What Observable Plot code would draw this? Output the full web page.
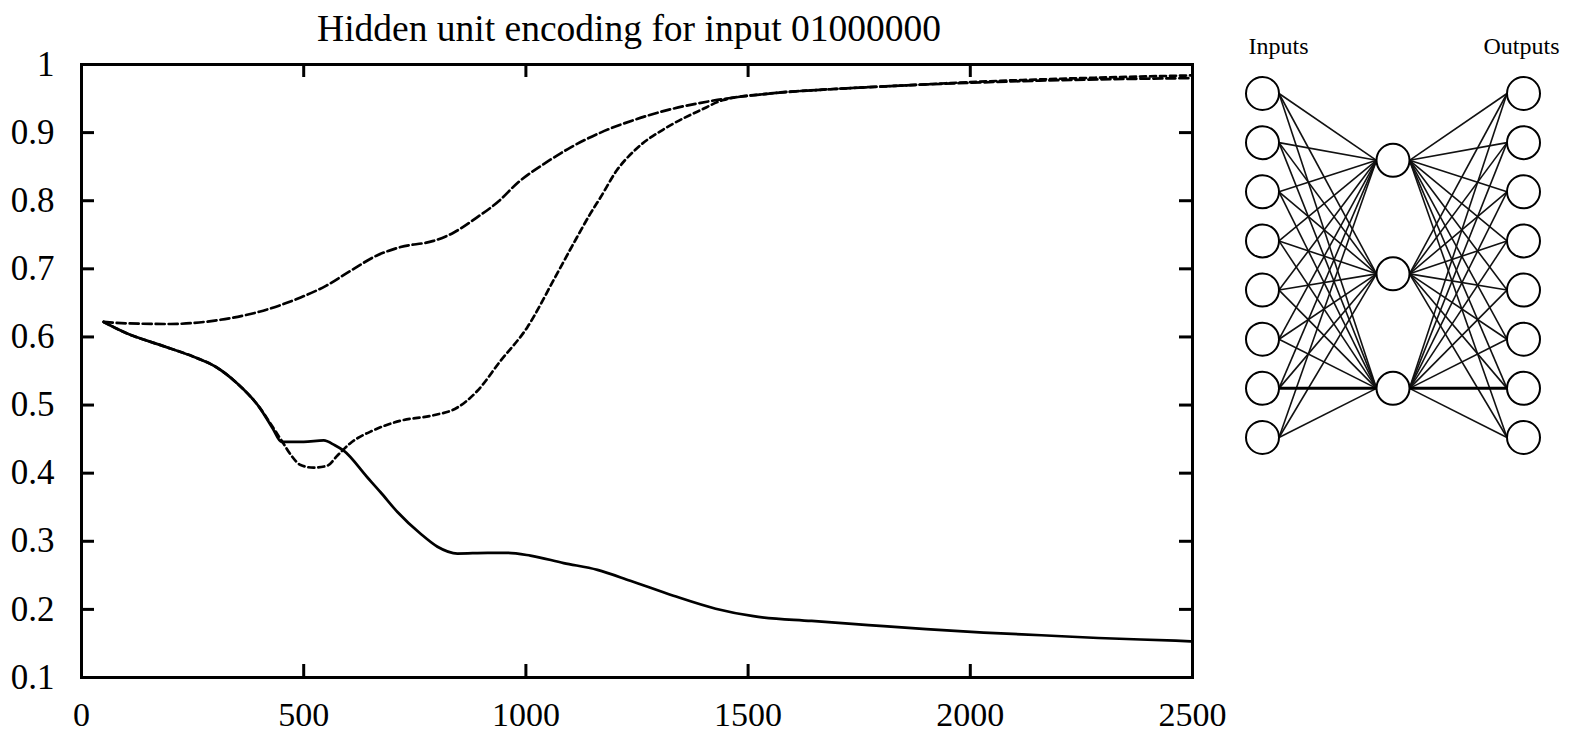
<!DOCTYPE html>
<html>
<head>
<meta charset="utf-8">
<script src="https://cdn.jsdelivr.net/npm/d3@7"></script>
<script src="https://cdn.jsdelivr.net/npm/@observablehq/plot@0.6"></script>
<style>
  html, body { margin: 0; padding: 0; background: #fff; }
  #wrap { position: relative; width: 1572px; height: 734px; overflow: hidden; background: #fff; }
  #main { position: absolute; left: 0; top: 0; }
  #net { position: absolute; left: 1200px; top: 0; }
</style>
</head>
<body>
<div id="wrap"><div id="main"></div><div id="net"></div></div>
<script>
// ---------- chart data ----------
const titleText = "Hidden unit encoding for input 01000000";
const xTicks = [0, 500, 1000, 1500, 2000, 2500];
const yTicks = [0.1, 0.2, 0.3, 0.4, 0.5, 0.6, 0.7, 0.8, 0.9, 1];
const xDomain = [0, 2500];
const yDomain = [0.1, 1];

// hidden unit rising early (long dashes)
const unitA = [[50,0.622],[100,0.620],[200,0.619],[300,0.624],[400,0.637],[493,0.658],[550,0.675],[605,0.697],[666,0.720],[718,0.732],[792,0.741],[837,0.753],[882,0.772],[940,0.800],[981,0.826],[1050,0.858],[1100,0.878],[1168,0.900],[1250,0.920],[1318,0.933],[1431,0.948],[1543,0.957],[1693,0.964],[1843,0.969],[1993,0.973],[2200,0.977],[2500,0.980]];
// hidden unit dipping then rising (short dashes)
const unitB = [[50,0.622],[103,0.605],[178,0.588],[252,0.571],[300,0.557],[350,0.532],[400,0.497],[430,0.468],[452,0.446],[472,0.426],[493,0.412],[522,0.408],[553,0.411],[576,0.426],[605,0.444],[657,0.463],[718,0.477],[792,0.485],[845,0.496],[891,0.521],[943,0.565],[1003,0.614],[1062,0.683],[1107,0.737],[1145,0.781],[1168,0.805],[1205,0.845],[1250,0.877],[1318,0.908],[1393,0.933],[1445,0.948],[1543,0.957],[1693,0.964],[1843,0.969],[1993,0.974],[2200,0.979],[2500,0.984]];
// hidden unit falling (solid)
const unitC = [[50,0.622],[103,0.605],[178,0.588],[252,0.571],[300,0.557],[350,0.532],[400,0.497],[430,0.466],[450,0.446],[500,0.446],[545,0.448],[570,0.441],[590,0.433],[643,0.394],[673,0.372],[711,0.343],[763,0.311],[801,0.292],[846,0.282],[914,0.283],[960,0.283],[1010,0.279],[1085,0.268],[1161,0.258],[1235,0.242],[1332,0.220],[1427,0.201],[1512,0.190],[1643,0.183],[1771,0.177],[1901,0.171],[2030,0.166],[2160,0.162],[2288,0.158],[2462,0.154],[2500,0.153]];

// ---------- network diagram data ----------
const inputPos = [0, 1, 2, 3, 4, 5, 6, 7];
const hiddenPos = [1.36, 3.67, 6];
const outputPos = [0, 1, 2, 3, 4, 5, 6, 7];
const activeInput = 6, activeHidden = 2, activeOutput = 6;
const inputLabel = "Inputs", outputLabel = "Outputs";
const labelPos = -0.96;

// ---------- main chart ----------
const W = 1200, H = 734, mL = 81, mR = 8, mT = 64, mB = 57;
const frameW = W - mL - mR, frameH = H - mT - mB, tickLen = 13;
const toRows = arr => arr.map(([t, v]) => ({t, v}));
const serif = "'Liberation Serif', 'Times New Roman', serif";

const main = Plot.plot({
  width: W, height: H,
  marginLeft: mL, marginRight: mR, marginTop: mT, marginBottom: mB,
  style: {fontFamily: serif, fontSize: "34px", background: "#fff", color: "#000", overflow: "visible"},
  x: {domain: xDomain, axis: null},
  y: {domain: yDomain, axis: null},
  marks: [
    Plot.axisX(xTicks, {anchor: "bottom", label: null, tickSize: 0, tickPadding: 24, fontSize: 34, tickFormat: d => String(d)}),
    Plot.axisY(yTicks, {anchor: "left", label: null, tickSize: 0, tickPadding: 27, fontSize: 35, tickFormat: d => String(d)}),
    Plot.ruleX(xTicks, {x: d => d, insetTop: frameH - tickLen, stroke: "#000", strokeWidth: 3}),
    Plot.ruleX(xTicks, {x: d => d, insetBottom: frameH - tickLen, stroke: "#000", strokeWidth: 3}),
    Plot.ruleY(yTicks, {y: d => d, insetRight: frameW - tickLen, stroke: "#000", strokeWidth: 3}),
    Plot.ruleY(yTicks, {y: d => d, insetLeft: frameW - tickLen, stroke: "#000", strokeWidth: 3}),
    Plot.line(toRows(unitA), {x: "t", y: "v", curve: "monotone-x", stroke: "#000", strokeWidth: 2.7, strokeDasharray: "9,4"}),
    Plot.line(toRows(unitB), {x: "t", y: "v", curve: "monotone-x", stroke: "#000", strokeWidth: 2.7, strokeDasharray: "6,4"}),
    Plot.line(toRows(unitC), {x: "t", y: "v", curve: "monotone-x", stroke: "#000", strokeWidth: 2.7}),
    Plot.frame({stroke: "#000", strokeWidth: 3}),
    Plot.text([titleText], {frameAnchor: "top", lineAnchor: "middle", dy: -36, dx: -8, fontSize: 37.5, fill: "#000"})
  ]
});
document.getElementById("main").appendChild(main);

// ---------- network diagram ----------
const NW = 372, NH = 470, nL = 62, nR = 49, nT = 93, nB = 33, nodeR = 16.5;
const pxPerLayer = (NW - nL - nR) / 2;
const port = nodeR / pxPerLayer;

const nodes = [
  ...inputPos.map(p => ({layer: 0, pos: p})),
  ...hiddenPos.map(p => ({layer: 1, pos: p})),
  ...outputPos.map(p => ({layer: 2, pos: p}))
];
const edges = [];
inputPos.forEach((ip, i) => hiddenPos.forEach((hp, h) =>
  edges.push({x1: 0 + port, y1: ip, x2: 1 - port, y2: hp, bold: i === activeInput && h === activeHidden})));
hiddenPos.forEach((hp, h) => outputPos.forEach((op, o) =>
  edges.push({x1: 1 + port, y1: hp, x2: 2 - port, y2: op, bold: h === activeHidden && o === activeOutput})));

const net = Plot.plot({
  width: NW, height: NH,
  marginLeft: nL, marginRight: nR, marginTop: nT, marginBottom: nB,
  style: {fontFamily: serif, background: "#fff", overflow: "visible"},
  x: {domain: [0, 2], axis: null},
  y: {domain: [0, 7], reverse: true, axis: null},
  marks: [
    Plot.link(edges.filter(d => !d.bold), {x1: "x1", y1: "y1", x2: "x2", y2: "y2", stroke: "#111", strokeWidth: 1.6}),
    Plot.link(edges.filter(d => d.bold), {x1: "x1", y1: "y1", x2: "x2", y2: "y2", stroke: "#000", strokeWidth: 3}),
    Plot.dot(nodes, {x: "layer", y: "pos", r: nodeR, fill: "#fff", stroke: "#000", strokeWidth: 2}),
    Plot.text([{layer: 0, pos: labelPos, name: inputLabel}], {x: "layer", y: "pos", text: "name", textAnchor: "start", lineAnchor: "middle", dx: -14, fontSize: 24, fill: "#000"}),
    Plot.text([{layer: 2, pos: labelPos, name: outputLabel}], {x: "layer", y: "pos", text: "name", textAnchor: "end", lineAnchor: "middle", dx: 36, fontSize: 24, fill: "#000"})
  ]
});
document.getElementById("net").appendChild(net);
</script>
</body>
</html>
